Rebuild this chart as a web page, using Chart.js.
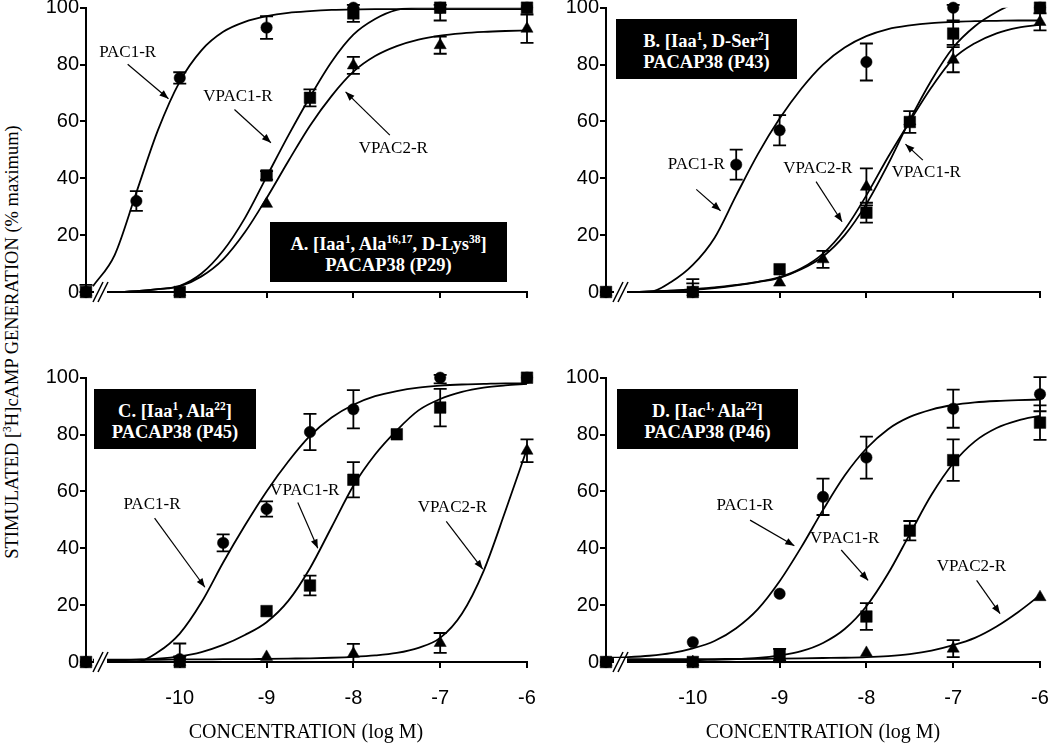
<!DOCTYPE html>
<html lang="en">
<head>
<meta charset="UTF-8">
<title>PACAP38 analogues — cAMP dose response</title>
<script src="https://cdn.jsdelivr.net/npm/chart.js"></script>
<style>
  * { box-sizing: border-box; margin: 0; padding: 0; }
  body { background: #fff; }
  #fig { position: relative; width: 1050px; height: 747px; overflow: hidden; font-family: "Liberation Serif", "Times New Roman", serif; color: #000; }
  #fig canvas { position: absolute; }
  .box { position: absolute; height: 60px; background: #000; color: #fff; font-weight: bold; font-size: 18.5px; line-height: 21px; text-align: center; padding-top: 12px; white-space: nowrap; }
  sup { font-size: 0.62em; line-height: 0; vertical-align: super; }
  .xtitle { position: absolute; width: 300px; font-size: 20px; line-height: 22px; text-align: center; top: 720px; }
  .ytitle { position: absolute; left: -218px; top: 331px; width: 460px; height: 22px; line-height: 22px; font-size: 18.5px; text-align: center; transform: rotate(-90deg); white-space: nowrap; }
</style>
</head>
<body>
<div id="fig">
  <canvas id="panelA" width="515" height="353" style="left:26px;top:-1px"></canvas>
  <canvas id="panelB" width="508" height="353" style="left:546px;top:-1px"></canvas>
  <canvas id="panelC" width="515" height="353" style="left:26px;top:369px"></canvas>
  <canvas id="panelD" width="508" height="353" style="left:546px;top:369px"></canvas>

  <div class="box" style="left:270px;top:222px;width:237px">A. [Iaa<sup>1</sup>, Ala<sup>16,17</sup>, D-Lys<sup>38</sup>]<br>PACAP38 (P29)</div>
  <div class="box" style="left:616px;top:19px;width:181px">B. [Iaa<sup>1</sup>, D-Ser<sup>2</sup>]<br>PACAP38 (P43)</div>
  <div class="box" style="left:94px;top:389px;width:162px">C. [Iaa<sup>1</sup>, Ala<sup>22</sup>]<br>PACAP38 (P45)</div>
  <div class="box" style="left:617px;top:389px;width:181px">D. [Iac<sup>1,</sup> Ala<sup>22</sup>]<br>PACAP38 (P46)</div>

  <div class="ytitle">STIMULATED [<sup>3</sup>H]cAMP GENERATION (% maximum)</div>
  <div class="xtitle" style="left:156px">CONCENTRATION (log M)</div>
  <div class="xtitle" style="left:673px">CONCENTRATION (log M)</div>
</div>

<script>
// ─── shared axes ──────────────────────────────────────────────────────────────
const curveLogM   = [-11, -10.75, -10.5, -10.25, -10, -9.75, -9.5, -9.25, -9, -8.75, -8.5,
                     -8.25, -8, -7.75, -7.5, -7.25, -7, -6.75, -6.5, -6.25, -6];
const xTickValues = [-10, -9, -8, -7, -6];
const xTickLabels = ['-10', '-9', '-8', '-7', '-6'];
const yTickValues = [0, 20, 40, 60, 80, 100];

// ─── A. [Iaa1, Ala16,17, D-Lys38] PACAP38 (P29) ──────────────────────────────
const aOrigin   = -11.08;
const aDoses    = [aOrigin, -10.5, -10, -9, -8.5, -8, -7, -6];
const aPac1     = [0, 32, 75.3, 93, null, 100, 100, 100];
const aPac1Err  = [0, 3.5, 2, 4, 0, 0, 0, 0];
const aVpac1    = [0, null, 0, 41, 68.3, 98, 100, 100];
const aVpac1Err = [2.5, 0, 0, 1.5, 3, 3, 4.5, 0];
const aVpac2    = [0, null, 0, 31, null, 79.7, 86.8, 92.6];
const aVpac2Err = [0, 0, 0, 0, 0, 3, 3, 5];
const aPac1Fit  = [2, 13, 35, 57, 74, 85, 91.5, 95, 97, 98.2, 98.8, 99.2, 99.4, 99.5, 99.5, 99.5, 99.5, 99.5, 99.5, 99.5, 99.5];
const aVpac1Fit = [0, 0, 0.3, 1, 2.2, 6.5, 14.5, 26, 40.5, 55, 68.6, 81, 90.5, 96, 99.2, 100, 100, 100, 100, 100, 100];
const aVpac2Fit = [0, 0, 0.3, 1, 2, 5.5, 11.5, 21, 33, 46, 58.5, 69, 77.5, 83, 86.5, 88.8, 90.2, 91, 91.5, 91.8, 92];
const aLabels = [
  { text: 'PAC1-R',  at: [-10.6, 84.4],  from: [-10.6, 80.1],  to: [-10.13, 68] },
  { text: 'VPAC1-R', at: [-9.33, 68.6],  from: [-9.37, 64.2],  to: [-8.95, 52.5] },
  { text: 'VPAC2-R', at: [-7.54, 50.5],  from: [-7.58, 55.2],  to: [-8.09, 70.4] },
];

// ─── B. [Iaa1, D-Ser2] PACAP38 (P43) ──────────────────────────────────────────
const bOrigin   = -11.0;
const bDoses    = [bOrigin, -10, -9.5, -9, -8.5, -8, -7.5, -7, -6];
const bPac1     = [0, 0, 44.8, 56.9, null, 80.9, null, 100, 100];
const bPac1Err  = [0, 4.5, 5.3, 5.3, 0, 6.5, 0, 4.5, 0];
const bVpac1    = [0, 0, null, 8, null, 27.9, 59.8, 90.9, 100];
const bVpac1Err = [0, 3, 0, 0, 0, 3.5, 3.8, 4, 0];
const bVpac2    = [0, 0, null, 3.3, 11.5, 37, 60, 81.7, 95];
const bVpac2Err = [0, 0, 0, 0, 3, 6.5, 0, 4.4, 3];
const bPac1Fit  = [0, 0, 0, 3.5, 9.5, 19, 34, 48.5, 61, 71.5, 80, 86, 90, 92.5, 93.8, 94.6, 95, 95.3, 95.4, 95.5, 95.5];
const bVpac1Fit = [0, 0, 0.2, 0.5, 0.8, 1.4, 2.3, 3.5, 5, 8, 12.5, 20, 31, 45, 60.5, 74.5, 86, 93.5, 98.5, 102, 104];
const bVpac2Fit = [0, 0, 0.2, 0.5, 1, 1.6, 2.5, 3.6, 5.2, 8.3, 13.5, 22, 34, 47.5, 60, 72, 82, 87.5, 91, 93, 94];
const bLabels = [
  { text: 'PAC1-R',  at: [-9.96, 45],    from: [-9.96, 36.1],  to: [-9.68, 28.6] },
  { text: 'VPAC2-R', at: [-8.56, 43.4],  from: [-8.58, 38.8],  to: [-8.28, 24.7] },
  { text: 'VPAC1-R', at: [-7.31, 41.9],  from: [-7.35, 46.4],  to: [-7.55, 52] },
];

// ─── C. [Iaa1, Ala22] PACAP38 (P45) ───────────────────────────────────────────
const cOrigin   = -11.08;
const cDoses    = [cOrigin, -10, -9.5, -9, -8.5, -8, -7.5, -7, -6];
const cPac1     = [0, 1, 41.9, 53.8, 80.9, 88.9, null, 100, 100];
const cPac1Err  = [0, 5.5, 3, 2.7, 6.4, 6.7, 0, 2, 0];
const cVpac1    = [0, 0, null, 17.9, 26.9, 64.1, 80.1, 89.5, 100];
const cVpac1Err = [0, 2, 0, 0, 3.5, 6.2, 0, 6.6, 0];
const cVpac2    = [0, 0, null, 1.8, null, 2.9, null, 6.7, 74.3];
const cVpac2Err = [0, 0, 0, 0, 0, 3.5, 0, 3.5, 4];
const cPac1Fit  = [0, 0, 0, 3.5, 10, 21, 35, 48, 60, 70.5, 79.5, 86, 90.5, 93.5, 95.3, 96.5, 97.2, 97.6, 97.8, 98, 98];
const cVpac1Fit = [0.3, 0.5, 0.8, 1.2, 2, 3.5, 6, 9.5, 14, 21.5, 33, 47.5, 62, 73, 81.5, 88.5, 92.5, 95, 96.5, 97.3, 97.8];
const cVpac2Fit = [0.8, 0.8, 0.8, 0.8, 0.9, 0.9, 1, 1, 1.1, 1.2, 1.3, 1.5, 1.8, 2.3, 3.2, 5, 8.5, 17, 32, 53, 75];
const cLabels = [
  { text: 'PAC1-R',  at: [-10.32, 55.3], from: [-10.29, 50.6], to: [-9.71, 26.3] },
  { text: 'VPAC1-R', at: [-8.56, 60.2],  from: [-8.64, 56.1],  to: [-8.41, 40] },
  { text: 'VPAC2-R', at: [-6.86, 54.4],  from: [-6.93, 49.5],  to: [-6.51, 32.7] },
];

// ─── D. [Iac1, Ala22] PACAP38 (P46) ───────────────────────────────────────────
const dOrigin   = -11.0;
const dDoses    = [dOrigin, -10, -9, -8.5, -8, -7.5, -7, -6];
const dPac1     = [0, 7, 24, 58.1, 71.9, null, 89.1, 94.2];
const dPac1Err  = [0, 0, 0, 6.4, 7.4, 0, 6.7, 6];
const dVpac1    = [0, 0, 2.6, null, 16, 46.2, 71, 84.2];
const dVpac1Err = [0, 0, 2, 0, 4.7, 3.4, 7.3, 6.1];
const dVpac2    = [0, 0, 1, null, 3.2, null, 4.7, 22.8];
const dVpac2Err = [0, 0, 0, 0, 0, 0, 3, 0];
const dPac1Fit  = [1.4, 1.7, 2.2, 3.1, 4.8, 7.4, 11.9, 18.6, 28.4, 40.4, 53.5, 65.6, 75.1, 81.9, 86.2, 88.8, 90.4, 91.3, 91.8, 92.1, 92.3];
const dVpac1Fit = [0.5, 0.5, 0.5, 0.5, 0.6, 0.8, 1, 1.4, 2.3, 3.8, 6.7, 11.6, 19.6, 31.1, 45, 58.8, 69.9, 77.6, 82.3, 85, 86.6];
const dVpac2Fit = [1, 1, 1, 1, 1, 1, 1.1, 1.1, 1.2, 1.3, 1.4, 1.5, 1.7, 2.1, 2.8, 4, 5.9, 8.5, 12.5, 17.6, 23.5];
const dLabels = [
  { text: 'PAC1-R',  at: [-9.4, 55],     from: [-9.34, 49.9],  to: [-8.83, 40.9] },
  { text: 'VPAC1-R', at: [-8.25, 43.3],  from: [-8.29, 39.4],  to: [-7.98, 28.7] },
  { text: 'VPAC2-R', at: [-6.79, 33.6],  from: [-6.73, 28.7],  to: [-6.46, 17] },
];

// ─── marker look per receptor ─────────────────────────────────────────────────
const MARK = {
  pac1:  { style: 'circle',   radius: 5.7, order: 2 },
  vpac1: { style: 'rect',     radius: 8.2, order: 0 },
  vpac2: { style: 'triangle', radius: 7,   order: 1 },
};

const panels = [
  { id: 'panelA', origin: aOrigin, doses: aDoses, showX: false, labels: aLabels, series: [
    { mark: 'pac1',  y: aPac1,  err: aPac1Err,  fit: aPac1Fit },
    { mark: 'vpac1', y: aVpac1, err: aVpac1Err, fit: aVpac1Fit },
    { mark: 'vpac2', y: aVpac2, err: aVpac2Err, fit: aVpac2Fit } ] },
  { id: 'panelB', origin: bOrigin, doses: bDoses, showX: false, labels: bLabels, series: [
    { mark: 'pac1',  y: bPac1,  err: bPac1Err,  fit: bPac1Fit },
    { mark: 'vpac1', y: bVpac1, err: bVpac1Err, fit: bVpac1Fit },
    { mark: 'vpac2', y: bVpac2, err: bVpac2Err, fit: bVpac2Fit } ] },
  { id: 'panelC', origin: cOrigin, doses: cDoses, showX: true, labels: cLabels, series: [
    { mark: 'pac1',  y: cPac1,  err: cPac1Err,  fit: cPac1Fit },
    { mark: 'vpac1', y: cVpac1, err: cVpac1Err, fit: cVpac1Fit },
    { mark: 'vpac2', y: cVpac2, err: cVpac2Err, fit: cVpac2Fit } ] },
  { id: 'panelD', origin: dOrigin, doses: dDoses, showX: true, labels: dLabels, series: [
    { mark: 'pac1',  y: dPac1,  err: dPac1Err,  fit: dPac1Fit },
    { mark: 'vpac1', y: dVpac1, err: dVpac1Err, fit: dVpac1Fit },
    { mark: 'vpac2', y: dVpac2, err: dVpac2Err, fit: dVpac2Fit } ] },
];

Chart.defaults.font.family = '"Liberation Sans", Arial, sans-serif';
Chart.defaults.color = '#000';

// error bars under the markers, axis break + arrows on top
function extras(p) {
  return {
    id: 'extras',
    beforeDatasetsDraw(chart) {
      const { ctx, scales: { x, y } } = chart;
      ctx.save();
      ctx.strokeStyle = '#000';
      ctx.lineWidth = 1.8;
      p.series.forEach(s => {
        p.doses.forEach((dose, i) => {
          const v = s.y[i], e = s.err[i];
          if (v === null || !e) return;
          const px  = x.getPixelForValue(dose);
          const top = y.getPixelForValue(Math.min(v + e, 101));
          const bot = y.getPixelForValue(Math.max(v - e, 0));
          ctx.beginPath();
          ctx.moveTo(px, top);       ctx.lineTo(px, bot);
          ctx.moveTo(px - 6.5, top); ctx.lineTo(px + 6.5, top);
          ctx.moveTo(px - 6.5, bot); ctx.lineTo(px + 6.5, bot);
          ctx.stroke();
        });
      });
      ctx.restore();
    },
    afterDatasetsDraw(chart) {
      const { ctx, chartArea, scales: { x, y } } = chart;
      ctx.save();

      // axis break  "//"
      const o  = x.getPixelForValue(p.origin);
      const ay = chartArea.bottom;
      ctx.fillStyle = '#fff';
      ctx.fillRect(o + 8, ay - 4, 13, 8);
      ctx.strokeStyle = '#000';
      ctx.lineWidth = 1.5;
      [12, 17].forEach(dx => {
        ctx.beginPath();
        ctx.moveTo(o + dx - 5, ay + 10);
        ctx.lineTo(o + dx + 5, ay - 10);
        ctx.stroke();
      });

      // receptor labels with arrows
      ctx.fillStyle = '#000';
      ctx.font = '17px "Liberation Serif", "Times New Roman", serif';
      ctx.textAlign = 'center';
      ctx.textBaseline = 'middle';
      p.labels.forEach(l => {
        ctx.fillText(l.text, x.getPixelForValue(l.at[0]), y.getPixelForValue(l.at[1]));
        const x0 = x.getPixelForValue(l.from[0]), y0 = y.getPixelForValue(l.from[1]);
        const x1 = x.getPixelForValue(l.to[0]),   y1 = y.getPixelForValue(l.to[1]);
        ctx.lineWidth = 1.2;
        ctx.beginPath(); ctx.moveTo(x0, y0); ctx.lineTo(x1, y1); ctx.stroke();
        const a = Math.atan2(y1 - y0, x1 - x0);
        ctx.beginPath();
        ctx.moveTo(x1, y1);
        ctx.lineTo(x1 - 9 * Math.cos(a) + 3.5 * Math.sin(a), y1 - 9 * Math.sin(a) - 3.5 * Math.cos(a));
        ctx.lineTo(x1 - 9 * Math.cos(a) - 3.5 * Math.sin(a), y1 - 9 * Math.sin(a) + 3.5 * Math.cos(a));
        ctx.closePath();
        ctx.fill();
      });
      ctx.restore();
    },
  };
}

function buildPanel(p) {
  const datasets = [];
  p.series.forEach(s => {
    datasets.push({
      data: curveLogM.map((lx, i) => ({ x: lx, y: s.fit[i] })),
      showLine: true, borderColor: '#000', borderWidth: 1.8,
      pointRadius: 0, cubicInterpolationMode: 'monotone', order: 3,
    });
  });
  p.series.forEach(s => {
    const m = MARK[s.mark];
    datasets.push({
      data: p.doses.map((lx, i) => ({ x: lx, y: s.y[i] })).filter(d => d.y !== null),
      showLine: false, pointStyle: m.style, pointRadius: m.radius,
      backgroundColor: '#000', borderColor: '#000', borderWidth: 0.5,
      order: m.order, clip: false,
    });
  });

  new Chart(document.getElementById(p.id), {
    type: 'scatter',
    data: { datasets },
    plugins: [extras(p)],
    options: {
      responsive: false,
      animation: false,
      devicePixelRatio: 1,
      layout: { padding: { top: 8, right: 14, bottom: 0, left: 0 } },
      plugins: { legend: { display: false }, tooltip: { enabled: false } },
      scales: {
        x: {
          type: 'linear', min: p.origin, max: -6,
          afterBuildTicks: s => { s.ticks = [p.origin, ...xTickValues].map(value => ({ value })); },
          afterFit: s => { s.height = 60; s.paddingLeft = 0; s.paddingRight = 0; },
          ticks: {
            callback: (v, i) => (p.showX && i > 0) ? xTickLabels[i - 1] : '',
            font: { size: 20 }, padding: 18, maxRotation: 0, autoSkip: false,
          },
          grid: { drawOnChartArea: false, drawTicks: true, tickLength: 6, tickWidth: 2, lineWidth: 2, color: '#000' },
          border: { display: true, color: '#000', width: 2 },
        },
        y: {
          min: 0, max: 100,
          afterBuildTicks: s => { s.ticks = yTickValues.map(value => ({ value })); },
          afterFit: s => { s.width = 60; s.paddingTop = 0; s.paddingBottom = 0; },
          ticks: { font: { size: 20 }, padding: 1 },
          grid: { drawOnChartArea: false, drawTicks: true, tickLength: 6, tickWidth: 2, lineWidth: 2, color: '#000' },
          border: { display: true, color: '#000', width: 2 },
        },
      },
    },
  });
}

panels.forEach(buildPanel);
</script>
</body>
</html>
